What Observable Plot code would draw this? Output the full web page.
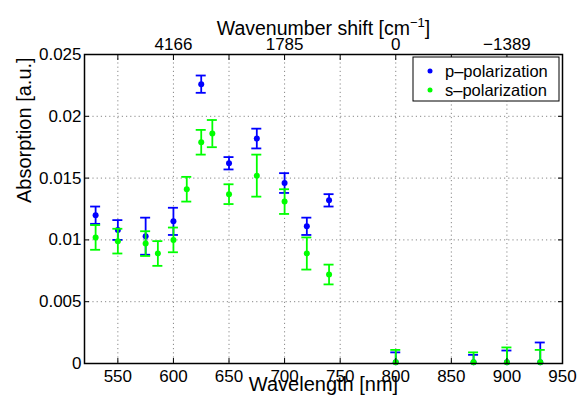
<!DOCTYPE html>
<html><head><meta charset="utf-8">
<script src="https://cdn.jsdelivr.net/npm/d3@7"></script>
<script src="https://cdn.jsdelivr.net/npm/@observablehq/plot@0.6"></script>
<style>body{margin:0;background:#fff}#chart{width:585px;height:403px}</style>
</head><body><div id="chart"></div>
<script>
// p-polarization
const pWave = [530, 550, 575, 600, 625, 650, 675, 700, 720, 740, 800, 870, 900, 930];
const pAbs  = [0.0120, 0.0108, 0.0103, 0.0115, 0.0226, 0.0162, 0.0182, 0.0146, 0.0111, 0.0132, 0.0001, 0.0001, 0.0001, 0.0001];
const pErr  = [0.0007, 0.0008, 0.0015, 0.0011, 0.0007, 0.0005, 0.0008, 0.0008, 0.0007, 0.0005, 0.0008, 0.0006, 0.00095, 0.0016];
// s-polarization
const sWave = [530, 550, 575, 586, 600, 612, 625, 635, 650, 675, 700, 720, 740, 800, 870, 900, 930];
const sAbs  = [0.0102, 0.0099, 0.0097, 0.0089, 0.0100, 0.0141, 0.0179, 0.0186, 0.0137, 0.0152, 0.0131, 0.0089, 0.0072, 0.0001, 0.0001, 0.0001, 0.0001];
const sErr  = [0.0010, 0.0010, 0.0010, 0.0010, 0.0010, 0.0010, 0.0010, 0.0011, 0.0008, 0.0017, 0.0010, 0.0013, 0.0008, 0.0010, 0.0008, 0.0012, 0.0010];
// ticks
const xTicks = [550, 600, 650, 700, 750, 800, 850, 900, 950];
const yTicks = [0, 0.005, 0.01, 0.015, 0.02, 0.025];
const topTicks = [550, 600, 650, 700, 750, 800, 850, 900];
const topLabelAt = [600, 700, 800, 900];
const topLabels = ["4166", "1785", "0", "\u22121389"];
const seriesNames = ["p\u2013polarization", "s\u2013polarization"];
const colors = ["#0000ff", "#00ff00"];

const rows = (w, a, e) => w.map((d, i) => ({w: d, a: a[i], lo: a[i] - e[i], hi: a[i] + e[i]}));
const pRows = rows(pWave, pAbs, pErr);
const sRows = rows(sWave, sAbs, sErr);
const topMap = new Map(topLabelAt.map((d, i) => [d, topLabels[i]]));

function errMarks(data, c) {
  return [
    Plot.ruleX(data, {x: "w", y1: "lo", y2: "hi", stroke: c, strokeWidth: 1.8, clip: true}),
    Plot.ruleY(data, {y: "hi", x1: "w", x2: "w", insetLeft: -5, insetRight: -5, stroke: c, strokeWidth: 1.8, clip: true}),
    Plot.ruleY(data, {y: "lo", x1: "w", x2: "w", insetLeft: -5, insetRight: -5, stroke: c, strokeWidth: 1.8, clip: true}),
    Plot.dot(data, {x: "w", y: "a", r: 3, fill: c, stroke: null})
  ];
}

const FONT = "'Liberation Sans', Arial, Helvetica, sans-serif";
const chart = Plot.plot({
  width: 585, height: 403,
  marginLeft: 84, marginRight: 23, marginTop: 54, marginBottom: 40,
  style: {fontFamily: FONT, fontSize: "17px", background: "white", color: "black"},
  x: {domain: [520, 950]},
  y: {domain: [0, 0.025]},
  marks: [
    Plot.gridX(xTicks.slice(0, -1), {stroke: "#888", strokeOpacity: 1, strokeDasharray: "1.2,3"}),
    Plot.gridY(yTicks.slice(1, -1), {stroke: "#888", strokeOpacity: 1, strokeDasharray: "1.2,3"}),
    ...errMarks(pRows, colors[0]),
    ...errMarks(sRows, colors[1]),
    Plot.axisX(xTicks, {anchor: "bottom", tickSize: -5, tickPadding: 11, label: null, fontSize: 17}),
    Plot.axisX(topTicks, {anchor: "top", tickSize: -5, tickPadding: 10, label: null, fontSize: 17, tickFormat: d => topMap.get(d) ?? ""}),
    Plot.axisY(yTicks, {anchor: "left", tickSize: -5, tickPadding: 8, label: null, fontSize: 17, tickFormat: d => String(d)}),
    Plot.axisY(yTicks, {anchor: "right", tickSize: -5, label: null, tickFormat: () => ""}),
    Plot.frame({stroke: "black", strokeWidth: 1.5}),
    Plot.text(["Wavelength [nm]"], {frameAnchor: "bottom", dy: 27, fontSize: 20}),
    Plot.text(["Absorption [a.u.]"], {frameAnchor: "left", rotate: -90, dx: -60, dy: -6, fontSize: 20}),
    Plot.text(["Wavenumber shift [cm"], {frameAnchor: "top", dy: -33, fontSize: 19.5, className: "toptitle"})
  ]
});
document.getElementById("chart").appendChild(chart);

// superscript in the top title
const svg = d3.select(chart);
svg.selectAll(".toptitle text").each(function() {
  const t = d3.select(this);
  t.text("Wavenumber shift [cm");
  t.append("tspan").attr("dy", "-8").attr("font-size", 13).text("\u22121");
  t.append("tspan").attr("dy", "8").text("]");
});

// legend
const lg = svg.append("g").attr("font-family", FONT).attr("font-size", 16.5).attr("text-anchor", "start");
lg.append("rect").attr("x", 413).attr("y", 57).attr("width", 146).attr("height", 44)
  .attr("fill", "white").attr("stroke", "black").attr("stroke-width", 1);
seriesNames.forEach((name, i) => {
  const y = 71 + i * 19;
  lg.append("circle").attr("cx", 430).attr("cy", y).attr("r", 2.5).attr("fill", colors[i]);
  lg.append("text").attr("x", 445).attr("y", y).attr("dy", "0.35em").text(name);
});
</script></body></html>
